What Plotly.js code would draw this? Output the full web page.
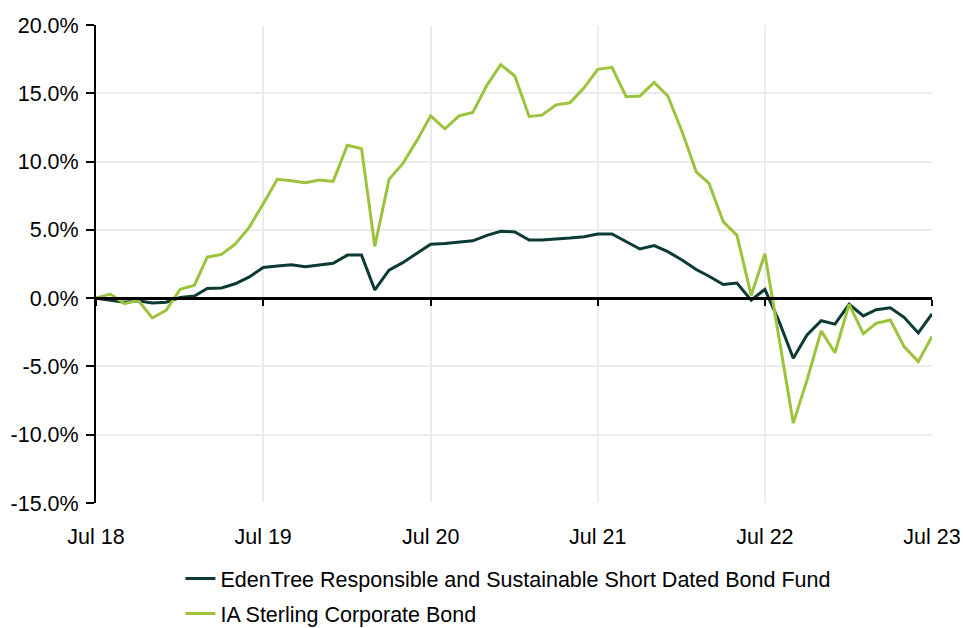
<!DOCTYPE html>
<html>
<head>
<meta charset="utf-8">
<script src="https://cdn.plot.ly/plotly-3.0.1.min.js"></script>
<style>html,body{margin:0;padding:0;background:#fff;}#chart{width:963px;height:628px;}</style>
</head>
<body>
<div id="chart"></div>
<script>
var months = [
 '2018-07-01','2018-08-01','2018-09-01','2018-10-01','2018-11-01','2018-12-01',
 '2019-01-01','2019-02-01','2019-03-01','2019-04-01','2019-05-01','2019-06-01',
 '2019-07-01','2019-08-01','2019-09-01','2019-10-01','2019-11-01','2019-12-01',
 '2020-01-01','2020-02-01','2020-03-01','2020-04-01','2020-05-01','2020-06-01',
 '2020-07-01','2020-08-01','2020-09-01','2020-10-01','2020-11-01','2020-12-01',
 '2021-01-01','2021-02-01','2021-03-01','2021-04-01','2021-05-01','2021-06-01',
 '2021-07-01','2021-08-01','2021-09-01','2021-10-01','2021-11-01','2021-12-01',
 '2022-01-01','2022-02-01','2022-03-01','2022-04-01','2022-05-01','2022-06-01',
 '2022-07-01','2022-08-01','2022-09-01','2022-10-01','2022-11-01','2022-12-01',
 '2023-01-01','2023-02-01','2023-03-01','2023-04-01','2023-05-01','2023-06-01',
 '2023-07-01'
];

var edenTree = [
 0.0, -0.15, -0.3, -0.2, -0.35, -0.3,
 0.05, 0.15, 0.7, 0.75, 1.05, 1.55,
 2.25, 2.35, 2.45, 2.3, 2.45, 2.55,
 3.15, 3.15, 0.6, 2.05, 2.6, 3.3,
 3.95, 4.0, 4.1, 4.2, 4.6, 4.9,
 4.85, 4.25, 4.25, 4.3, 4.4, 4.5,
 4.7, 4.7, 4.15, 3.6, 3.85, 3.4,
 2.8, 2.1, 1.6, 1.0, 1.1, -0.15,
 0.65, -1.7, -4.4, -2.7, -1.65, -1.9,
 -0.45, -1.3, -0.85, -0.7, -1.4, -2.55,
 -1.15
];

var iaSterling = [
 0.0, 0.3, -0.4, -0.15, -1.45, -0.9,
 0.65, 0.95, 3.0, 3.2, 3.95, 5.2,
 6.9, 8.7, 8.6, 8.45, 8.65, 8.55,
 11.2, 10.95, 3.8, 8.7, 9.85, 11.55,
 13.35, 12.4, 13.35, 13.6, 15.6, 17.1,
 16.25, 13.3, 13.4, 14.15, 14.3, 15.4,
 16.75, 16.9, 14.75, 14.8, 15.8, 14.8,
 12.2, 9.25, 8.4, 5.6, 4.6, 0.2,
 3.25, -2.9, -9.15, -6.0, -2.4, -4.0,
 -0.45, -2.6, -1.85, -1.6, -3.55, -4.65,
 -2.8
];

var yTickVals = [-15, -10, -5, 0, 5, 10, 15, 20];
var yTickText = ['-15.0%', '-10.0%', '-5.0%', '0.0%', '5.0%', '10.0%', '15.0%', '20.0%'];

var seriesNames = ['EdenTree Responsible and Sustainable Short Dated Bond Fund', 'IA Sterling Corporate Bond'];
var seriesColors = ['#0b3b34', '#9cc33e'];
var yRange = [-15, 20];
var xRange = ['2018-07-01', '2023-07-01'];

var font = {family: 'Liberation Sans, Arial, sans-serif', size: 21.5, color: '#000'};

var traces = [
  {x: months, y: edenTree, type: 'scatter', mode: 'lines', name: seriesNames[0],
   line: {color: seriesColors[0], width: 3}, legendgroup: 'a', xaxis: 'x', yaxis: 'y'},
  {x: months, y: iaSterling, type: 'scatter', mode: 'lines', name: seriesNames[1],
   line: {color: seriesColors[1], width: 3}, legendgroup: 'b', xaxis: 'x2', yaxis: 'y'}
];

var zeroPos = (0 - yRange[0]) / (yRange[1] - yRange[0]);

var layout = {
  width: 963, height: 628,
  margin: {l: 96, r: 31, t: 25, b: 125, autoexpand: false},
  paper_bgcolor: '#fff', plot_bgcolor: '#fff',
  font: font,
  showlegend: true,
  legend: {orientation: 'v', x: 0.101, xanchor: 'left', y: -0.115, yanchor: 'top',
           font: font, bgcolor: 'rgba(0,0,0,0)', tracegroupgap: 4, traceorder: 'grouped'},
  xaxis: {type: 'date', range: xRange, tick0: '2018-07-01', dtick: 'M12', tickformat: '%b %y',
          showgrid: true, gridcolor: '#ececec', gridwidth: 2, zeroline: false, showline: false,
          ticks: 'outside', ticklen: 14, tickcolor: 'rgba(0,0,0,0)', tickfont: font, fixedrange: true},
  xaxis2: {type: 'date', matches: 'x', overlaying: 'x', anchor: 'free', position: zeroPos,
           tick0: '2018-07-01', dtick: 'M12', showgrid: false, zeroline: false,
           showline: true, linecolor: '#000', linewidth: 3,
           ticks: 'outside', ticklen: 6, tickwidth: 2, tickcolor: '#000', showticklabels: false},
  yaxis: {range: yRange, tickmode: 'array', tickvals: yTickVals, ticktext: yTickText,
          showgrid: true, gridcolor: '#ececec', gridwidth: 2, zeroline: false,
          showline: true, linecolor: '#000', linewidth: 2,
          ticks: 'outside', ticklen: 8, tickwidth: 2, tickcolor: '#000', tickfont: font,
          ticklabelstandoff: 3}
};

Plotly.newPlot('chart', traces, layout, {displayModeBar: false, staticPlot: true});
</script>
</body>
</html>
